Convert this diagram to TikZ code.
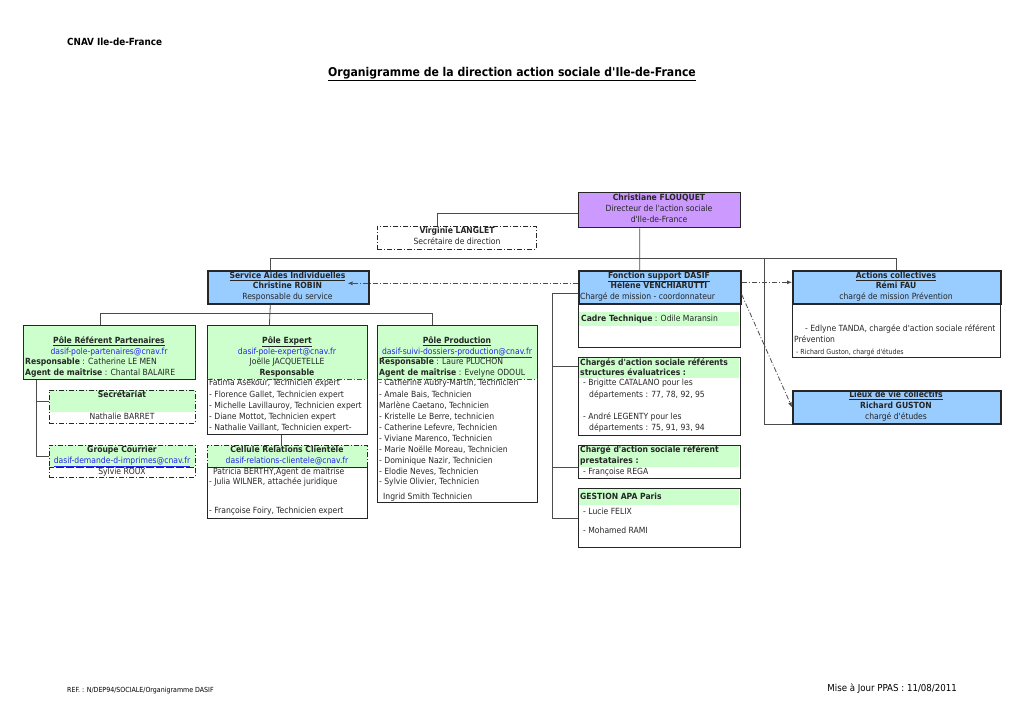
\documentclass[tikz,border=0pt]{standalone}
\usepackage{fontspec}
\setmainfont{DejaVu Sans Condensed}[Ligatures=TeXOff]
\usetikzlibrary{arrows.meta}

\definecolor{dirpurple}{HTML}{CC99FF}
\definecolor{headblue}{HTML}{99CCFF}
\definecolor{polegreen}{HTML}{CCFFCC}
\definecolor{mailblue}{HTML}{2424F0}

\newcommand\fs{\fontsize{8.5}{10.8}\selectfont}

\begin{document}
\begin{tikzpicture}[x=1pt,y=-1pt]

  \tikzstyle{box}=[draw=black!85,rectangle,inner sep=0pt,anchor=north west,line width=.8pt]
  \tikzstyle{chef}=[box,fill=headblue,line width=1.6pt]
  \tikzstyle{band}=[rectangle,inner sep=0pt,anchor=north west,fill=polegreen]
  \tikzstyle{pointille}=[dash pattern=on 5pt off 2pt on 1pt off 2pt]
  \tikzstyle{ln}=[inner sep=0pt,text height=6.4pt,text depth=1.9pt,font=\fs,text=black!85]
  \tikzstyle{lien}=[draw=black!70,line width=.8pt]
  \tikzstyle{fleche}=[lien,pointille,-{Latex[length=5pt,width=4pt]}]

  \useasboundingbox (0,0) rectangle (1024,725);

  \node[font=\bfseries\fontsize{9.8}{11}\selectfont,anchor=west,inner sep=0pt] (cnav) at (67,42) {CNAV Ile-de-France};
  \node[font=\bfseries\fontsize{12.1}{13}\selectfont,inner sep=0pt] (titre) at (512,74)
    {\underline{Organigramme de la direction action sociale d'Ile-de-France}};
  \node[font=\fontsize{7}{8}\selectfont,anchor=west,inner sep=0pt] (ref) at (67,691) {REF. : N/DEP94/SOCIALE/Organigramme DASIF};
  \node[font=\fontsize{9.6}{10}\selectfont,anchor=east,inner sep=0pt] (maj) at (957,689) {Mise à Jour PPAS : 11/08/2011};

  % direction
  \node[box,fill=dirpurple,line width=1.4pt,minimum width=162pt,minimum height=35pt] (DIR) at (578,192) {};
  \foreach \y/\nom in {198/\textbf{Christiane FLOUQUET}, 209/Directeur de l'action sociale, 220/d'Ile-de-France}
    \node[ln] (DIR-\y) at (659,\y) {\nom};

  \node[box,pointille,minimum width=159pt,minimum height=23pt] (LAN) at (377,226) {};
  \foreach \y/\nom in {231/\textbf{Virginie LANGLET}, 242/Secrétaire de direction}
    \node[ln] (LAN-\y) at (457,\y) {\nom};

  % service aides individuelles
  \node[chef,minimum width=161pt,minimum height=33pt] (SAI) at (207,270) {};
  \foreach \y/\nom in {276/\textbf{\underline{Service Aides Individuelles}}, 286/\textbf{Christine ROBIN}, 297/Responsable du service}
    \node[ln] (SAI-\y) at (287.5,\y) {\nom};

  % fonction support
  \node[box,minimum width=162pt,minimum height=44pt] (CT) at (578,303) {};
  \node[band,minimum width=160pt,minimum height=14pt] (CT-h) at (579,312) {};
  \node[ln,anchor=west] (CT-t) at (581,319) {\textbf{Cadre Technique} : Odile Maransin};
  \node[chef,minimum width=162pt,minimum height=33pt] (FS) at (578,270) {};
  \foreach \y/\nom in {276/\textbf{\underline{Fonction support DASIF}}, 286/\textbf{Hélène VENCHIARUTTI}}
    \node[ln] (FS-\y) at (659,\y) {\nom};
  \node[ln,anchor=west] (FS-297) at (580,297) {Chargé de mission - coordonnateur};

  % actions collectives
  \node[box,minimum width=208pt,minimum height=54pt] (ACL) at (792,303) {};
  \node[chef,minimum width=208pt,minimum height=33pt] (AC) at (792,270) {};
  \foreach \y/\nom in {276/\textbf{\underline{Actions collectives}}, 286/\textbf{Rémi FAU}, 297/chargé de mission Prévention}
    \node[ln] (AC-\y) at (896,\y) {\nom};
  \node[ln,anchor=west] (ACL-1) at (805,329) {- Edlyne TANDA, chargée d'action sociale référent};
  \node[ln,anchor=west] (ACL-2) at (794,340) {Prévention};
  \node[ln,anchor=west,font=\fontsize{7}{8}\selectfont] (ACL-3) at (796,352) {- Richard Guston, chargé d'études};

  \node[chef,minimum width=208pt,minimum height=33pt] (LVC) at (792,390) {};
  \foreach \y/\nom in {395/\textbf{\underline{Lieux de vie collectifs}}, 406/\textbf{Richard GUSTON}, 417/chargé d'études}
    \node[ln] (LVC-\y) at (896,\y) {\nom};

  % charges d'action sociale
  \node[box,minimum width=162pt,minimum height=78pt] (CAS) at (578,357) {};
  \node[band,minimum width=160pt,minimum height=20pt] (CAS-h) at (579,358) {};
  \foreach \x/\y/\nom in {580/363/\textbf{Chargés d'action sociale référents}, 580/373/\textbf{structures évaluatrices :},
                          583/383/- Brigitte CATALANO pour les, 589/395/{départements : 77, 78, 92, 95},
                          583/417/- André LEGENTY pour les, 589/428/{départements : 75, 91, 93, 94}}
    \node[ln,anchor=west] (CAS-\y) at (\x,\y) {\nom};

  \node[box,minimum width=162pt,minimum height=33pt] (CP) at (578,445) {};
  \node[band,minimum width=160pt,minimum height=21pt] (CP-h) at (579,446) {};
  \foreach \x/\y/\nom in {580/450/\textbf{Chargé d'action sociale référent}, 580/461/\textbf{prestataires :},
                          583/472/- Françoise REGA}
    \node[ln,anchor=west] (CP-\y) at (\x,\y) {\nom};

  \node[box,minimum width=162pt,minimum height=59pt] (GAP) at (578,488) {};
  \node[band,minimum width=160pt,minimum height=16pt] (GAP-h) at (579,489) {};
  \foreach \x/\y/\nom in {580/497/\textbf{GESTION APA Paris}, 583/512/- Lucie FELIX, 583/531/- Mohamed RAMI}
    \node[ln,anchor=west] (GAP-\y) at (\x,\y) {\nom};

  % pole referent partenaires
  \node[box,fill=polegreen,minimum width=172pt,minimum height=54pt] (PRP) at (23,325) {};
  \foreach \y/\nom in {341/\textbf{\underline{Pôle Référent Partenaires}}, 352/\textcolor{mailblue}{dasif-pole-partenaires@cnav.fr}}
    \node[ln] (PRP-\y) at (109,\y) {\nom};
  \foreach \y/\nom in {362/\textbf{Responsable} : Catherine LE MEN, 373/\textbf{Agent de maîtrise} : Chantal BALAIRE}
    \node[ln,anchor=west] (PRP-\y) at (25,\y) {\nom};

  \node[band,minimum width=146pt,minimum height=22pt] (SEC-h) at (49,390) {};
  \node[box,pointille,minimum width=146pt,minimum height=33pt] (SEC) at (49,390) {};
  \foreach \y/\nom in {395/\textbf{Secrétariat}, 417/Nathalie BARRET}
    \node[ln] (SEC-\y) at (122,\y) {\nom};

  \node[box,pointille,fill=polegreen,minimum width=146pt,minimum height=22pt] (GC) at (49,445) {};
  \node[box,pointille,minimum width=146pt,minimum height=10pt] (GC-b) at (49,467) {};
  \foreach \y/\nom in {450/\textbf{Groupe Courrier}, 461/\textcolor{mailblue}{\underline{dasif-demande-d-imprimes@cnav.fr}}, 472/Sylvie ROUX}
    \node[ln] (GC-\y) at (122,\y) {\nom};

  % pole expert
  \node[band,minimum width=160pt,minimum height=54pt] (PEX-h) at (207,325) {};
  \node[box,minimum width=160pt,minimum height=109pt] (PEX) at (207,325) {};
  \draw[lien,pointille] (PEX-h.south west) -- (PEX-h.south east);
  \foreach \y/\nom in {341/\textbf{\underline{Pôle Expert}}, 352/\textcolor{mailblue}{dasif-pole-expert@cnav.fr},
                       362/Joëlle JACQUETELLE, 373/\textbf{Responsable}}
    \node[ln] (PEX-\y) at (287,\y) {\nom};
  \foreach \y/\nom in {383/{Fatima Asekour, Technicien expert}, 395/{- Florence Gallet, Technicien expert},
                       406/{- Michelle Lavillauroy, Technicien expert}, 417/{- Diane Mottot, Technicien expert},
                       428/{- Nathalie Vaillant, Technicien expert-}}
    \node[ln,anchor=west] (PEX-\y) at (209,\y) {\nom};

  \node[box,minimum width=160pt,minimum height=51pt] (CRC-b) at (207,467) {};
  \node[box,pointille,fill=polegreen,minimum width=160pt,minimum height=22pt] (CRC) at (207,445) {};
  \foreach \y/\nom in {450/\textbf{Cellule Relations Clientèle}, 461/\textcolor{mailblue}{dasif-relations-clientele@cnav.fr}}
    \node[ln] (CRC-\y) at (287,\y) {\nom};
  \foreach \x/\y/\nom in {213/472/{Patricia BERTHY,Agent de maîtrise}, 209/482/{- Julia WILNER, attachée juridique},
                          209/511/{- Françoise Foiry, Technicien expert}}
    \node[ln,anchor=west] (CRC-\y) at (\x,\y) {\nom};

  % pole production
  \node[band,minimum width=160pt,minimum height=54pt] (PPR-h) at (377,325) {};
  \node[box,minimum width=160pt,minimum height=177pt] (PPR) at (377,325) {};
  \draw[lien,pointille] (PPR-h.south west) -- (PPR-h.south east);
  \foreach \y/\nom in {341/\textbf{\underline{Pôle Production}}, 352/\textcolor{mailblue}{\underline{dasif-suivi-dossiers-production@cnav.fr}}}
    \node[ln] (PPR-\y) at (457,\y) {\nom};
  \foreach \x/\y/\nom in {379/362/\textbf{Responsable} : Laure PLUCHON, 379/373/\textbf{Agent de maîtrise} : Evelyne ODOUL,
                          379/383/{- Catherine Aubry-Martin, Technicien}, 379/395/{- Amale Bais, Technicien},
                          379/406/{Marlène Caetano, Technicien}, 379/417/{- Kristelle Le Berre, technicien},
                          379/428/{- Catherine Lefevre, Technicien}, 379/439/{- Viviane Marenco, Technicien},
                          379/450/{- Marie Noëlle Moreau, Technicien}, 379/461/{- Dominique Nazir, Technicien},
                          379/472/{- Elodie Neves, Technicien}, 379/482/{- Sylvie Olivier, Technicien},
                          383/497/Ingrid Smith Technicien}
    \node[ln,anchor=west] (PPR-\y) at (\x,\y) {\nom};

  % liens
  \coordinate (bus) at (764,258);
  \draw[lien] ([yshift=-3pt]DIR.west) -| ([xshift=-20pt]LAN.north);
  \draw[lien] ([xshift=-20pt]DIR.south) -- ([xshift=-20pt]FS.north);
  \draw[lien] ([xshift=-18pt]SAI.north) |- (bus) |- (LVC.south west);
  \draw[lien] (bus) -| (AC.north);

  \draw[lien] ([xshift=-18pt]SAI.south) -- ([xshift=-18pt]PEX.north);
  \draw[lien] ([xshift=-9pt]PRP.north) |- ([xshift=-25pt,yshift=12pt]PPR.north) -- ([xshift=-25pt]PPR.north);
  \draw[lien] ([xshift=13pt]PRP.south west) |- ([yshift=6pt]SEC.west);
  \draw[lien] ([xshift=13pt]PRP.south west) |- (GC.west);
  \draw[lien] ([xshift=-6pt]PEX.south) -- ([xshift=-6pt]CRC.north);

  \draw[lien] ([yshift=-6pt]FS.west) -| ([xshift=-26pt]GAP.west) -- (GAP.west);
  \draw[lien] ([yshift=-9pt]CAS.north west) -- ([xshift=-26pt,yshift=-9pt]CAS.north west);
  \draw[lien] ([yshift=-5pt]CP.west) -- ([xshift=-26pt,yshift=-5pt]CP.west);

  \draw[fleche] ([yshift=4pt]FS.west) -- ([xshift=-22pt,yshift=4pt]SAI.east);
  \draw[fleche] ([yshift=5pt]FS.east) -- ([yshift=5pt]AC.west);
  \draw[fleche] ([yshift=-7pt]FS.east) -- (LVC.west);
\end{tikzpicture}
\end{document}
